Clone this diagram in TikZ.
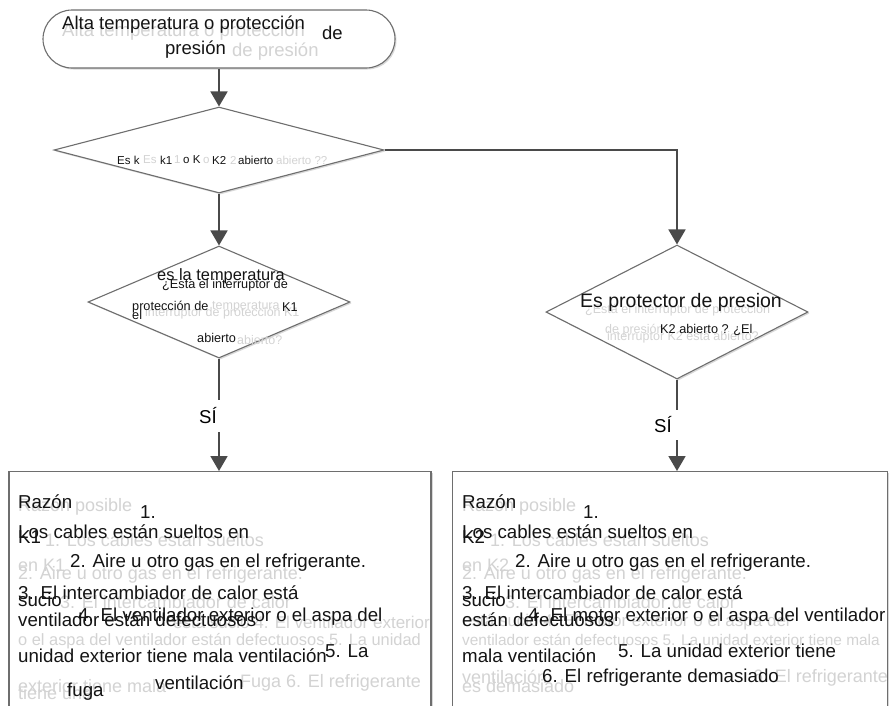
\documentclass[tikz,border=0pt]{standalone}
\usepackage{fontspec}
\setmainfont{Liberation Sans}
\usetikzlibrary{positioning, arrows.meta, shapes.geometric, shadows}
\definecolor{traitGris}{HTML}{4A4A4A}
\definecolor{bordGris}{HTML}{6E6E6E}
\definecolor{fantome}{HTML}{D3D3D3}
\definecolor{texteNoir}{HTML}{141414}
\newcommand{\taille}[1]{\fontsize{#1}{#1}\selectfont}

\begin{document}
\begin{tikzpicture}[x=1pt, y=-1pt,
    fleche/.style={draw=traitGris, line width=1.8pt, -{Triangle[width=17pt,length=15pt]}},
    trait/.style={draw=traitGris, line width=1.8pt},
    forme/.style={draw=bordGris, line width=1.1pt, fill=white, inner sep=0pt,
      drop shadow={shadow xshift=1.5pt, shadow yshift=-1.5pt, fill=black!30, opacity=.5}},
    txt/.style={anchor=west, inner sep=0pt, text=texteNoir},
    ghost/.style={anchor=west, inner sep=0pt, text=fantome}]
    \useasboundingbox (0,0) rectangle (890,705);
    \clip (0,0) rectangle (890,705);

    % formes
    \node[forme, rounded corners=29pt, minimum width=352pt, minimum height=58pt] (debut) at (219,39) {};
    \node[forme, diamond, minimum width=330pt, minimum height=86pt] (q1) at (219,150) {};
    \node[forme, diamond, minimum width=262pt, minimum height=112pt] (q2) at (219,302) {};
    \node[forme, diamond, minimum width=262pt, minimum height=134pt] (q3) at (677,312) {};
    \node[forme, anchor=north, minimum width=422pt, minimum height=300pt] (cause1) at (220,471) {};
    \node[forme, anchor=north, minimum width=435pt, minimum height=300pt] (cause2) at (670,471) {};

    % liaisons
    \draw[fleche] (debut) -- (q1);
    \draw[fleche] (q1) -- (q2);
    \draw[fleche] (q1.east) -| (q3.north);
    \node[inner sep=0pt, minimum height=32pt, font=\taille{18.6}] (si1) at (208,416) {SÍ};
    \node[inner sep=0pt, minimum height=30pt, font=\taille{18.6}] (si2) at (663,425) {SÍ};
    \draw[trait] (q2.south) -- (q2.south |- si1.north);
    \draw[fleche] (q2.south |- si1.south) -- (cause1.north -| q2.south);
    \draw[trait] (q3.south) -- (q3.south |- si2.north);
    \draw[fleche] (q3.south |- si2.south) -- (cause2.north -| q3.south);

    % textes en gris clair (dessous)
    \foreach \x/\y/\t [count=\i] in {62/32/Alta temperatura o protección, 232/52/de presión}
      \node[ghost, font=\taille{18.5}] (gA\i) at (\x,\y) {\t};
    \foreach \x/\y/\t [count=\i] in {143/160/Es, 174/160/1, 203/160/o, 230/160/2, 276/160/abierto ??}
      \node[ghost, font=\taille{11.5}] (gB\i) at (\x,\y) {\t};
    \foreach \x/\y/\t [count=\i] in {212/307/temperatura, 145/313/interruptor de protección K1,
        237/340/abierto?, 585/310/¿Está el interruptor de protección, 605/330/de presión,
        607/337/interruptor K2 está abierto?}
      \node[ghost, font=\taille{12.5}] (gC\i) at (\x,\y) {\t};
    \foreach \x/\y/\t [count=\i] in {18/507/Razón posible, 45/540/1. Los cables están sueltos,
        18/565/en K1, 18/575/2. Aire u otro gas en el refrigerante.,
        60/602/3. El intercambiador de calor, 18/686/exterior tiene mala, 18/693/tiene una,
        240/683/Fuga 6. El refrigerante,
        462/507/Razón posible, 490/540/1. Los cables están sueltos,
        462/565/en K2, 462/575/2. Aire u otro gas en el refrigerante.,
        505/602/3. El intercambiador de calor, 462/677/ventilación, 462/686/es demasiado,
        753/678/6. El refrigerante}
      \node[ghost, font=\taille{18}] (gD\i) at (\x,\y) {\t};
    \node[ghost, font=\taille{17}, anchor=east] (gE1) at (430,622) {está sucio 4. El ventilador exterior};
    \node[ghost, font=\taille{16.4}] (gE2) at (18,641) {o el aspa del ventilador están defectuosos 5. La unidad};
    \node[ghost, font=\taille{17}] (gE3) at (462,622) {está sucio 4. El motor exterior o el aspa del};
    \node[ghost, font=\taille{15.4}] (gE4) at (462,640) {ventilador están defectuosos 5. La unidad exterior tiene mala};

    % textes noirs
    \foreach \x/\y/\t [count=\i] in {62/25/Alta temperatura o protección, 322/33/de, 165/50/presión}
      \node[txt, font=\taille{18.5}] (tA\i) at (\x,\y) {\t};
    \foreach \x/\y/\t [count=\i] in {117/160/Es k, 160/160/k1, 183/160/o K, 212/160/K2, 238/160/abierto}
      \node[txt, font=\taille{11.5}] (tB\i) at (\x,\y) {\t};
    \node[txt, font=\taille{16.4}] (tC1) at (157,276) {es la temperatura};
    \node[txt, font=\taille{19.5}] (tC2) at (580,302) {Es protector de presion};
    \foreach \x/\y/\t [count=\i] in {162/285/¿Esta el interruptor de, 132/307/protección de, 132/315/el,
        282/307/K1, 197/338/abierto, 660/330/K2 abierto ? ¿El}
      \node[txt, font=\taille{12.7}] (tD\i) at (\x,\y) {\t};
    \foreach \x/\y/\t [count=\i] in {18/502/Razón, 140/512/1., 18/532/Los cables están sueltos en, 18/537/K1,
        70/563/2. Aire u otro gas en el refrigerante., 18/593/3. El intercambiador de calor está,
        18/600/sucio, 18/620/ventilador están defectuosos, 78/617/4. El ventilador exterior o el aspa del,
        18/656/unidad exterior tiene mala ventilación, 325/651/5. La, 67/692/fuga, 155/683/ventilación,
        462/502/Razón, 583/512/1., 462/532/Los cables están sueltos en, 462/537/K2,
        515/563/2. Aire u otro gas en el refrigerante., 462/593/3. El intercambiador de calor está,
        462/600/sucio, 462/620/están defectuosos, 528/617/4. El motor exterior o el aspa del ventilador,
        462/656/mala ventilación, 618/651/5. La unidad exterior tiene, 542/678/6. El refrigerante demasiado}
      \node[txt, font=\taille{18.7}] (tE\i) at (\x,\y) {\t};
  \end{tikzpicture}
\end{document}
